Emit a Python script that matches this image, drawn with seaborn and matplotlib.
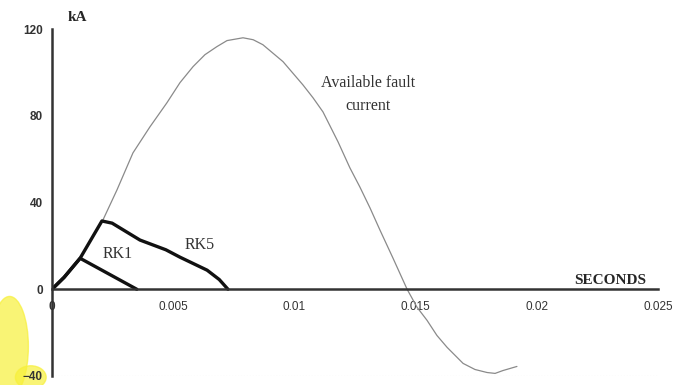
import numpy as np
import pandas as pd
import matplotlib
matplotlib.use("Agg")
import matplotlib.pyplot as plt
import seaborn as sns
from matplotlib.patches import Ellipse

# available fault current
fault_t = [0, 0.0005, 0.00116, 0.0021, 0.00268, 0.00334, 0.00404, 0.00474, 0.00528,
           0.00582, 0.00631, 0.0068, 0.00722, 0.00788, 0.0083, 0.0087, 0.00953,
           0.01035, 0.01077, 0.01118, 0.0118, 0.01229, 0.0127, 0.01312, 0.01353,
           0.01407, 0.01465, 0.01506, 0.01547, 0.01588, 0.0163, 0.01696, 0.01745,
           0.01795, 0.01828, 0.0186, 0.01918]
fault_ka = [0, 5.5, 14.3, 31.9, 45.8, 62.9, 74.9, 86, 95.3,
            102.7, 108.2, 111.9, 114.7, 116, 115.1, 112.8, 105,
            94.3, 88.3, 81.8, 68, 56, 47.2, 37.5, 27.3,
            14.3, 0, -8.3, -14.3, -21.3, -26.8, -34.2, -37,
            -38.4, -38.8, -37.5, -35.6]

# let-through current of the fuses
rk1_t = [0, 0.0005, 0.00116, 0.0035]
rk1_ka = [0, 5.5, 14.3, 0]
rk5_t = [0, 0.0005, 0.00116, 0.00206, 0.00248, 0.00363, 0.0047, 0.00528, 0.0064, 0.0069, 0.00726]
rk5_ka = [0, 5.5, 14.3, 31.5, 30.5, 22.7, 18.2, 14.8, 8.8, 4.5, 0]

x_ticks = [0, 0.005, 0.01, 0.015, 0.02, 0.025]
x_labels = ["0", "0.005", "0.01", "0.015", "0.02", "0.025"]
y_ticks = [-40, 0, 40, 80, 120]

sns.set_style("white")
plt.rcParams["font.family"] = ["Liberation Sans", "DejaVu Sans"]

fig = plt.figure(figsize=(6.84, 3.85), dpi=100)
ax = fig.add_axes([0.076, 0.0234, 0.886, 0.901])
ax.patch.set_alpha(0)

# yellow highlighter smudge from the scan
fig.patches.append(Ellipse((0.014, 0.10), 0.055, 0.26, transform=fig.transFigure,
                           color="#f7f03a", alpha=0.7, zorder=-1))
fig.patches.append(Ellipse((0.045, 0.02), 0.045, 0.06, transform=fig.transFigure,
                           color="#f7f03a", alpha=0.7, zorder=-1))

fault = pd.DataFrame({"t": fault_t, "kA": fault_ka})
rk1 = pd.DataFrame({"t": rk1_t, "kA": rk1_ka})
rk5 = pd.DataFrame({"t": rk5_t, "kA": rk5_ka})

sns.lineplot(data=fault, x="t", y="kA", ax=ax, color="#8a8a8a", lw=0.9, sort=False)
sns.lineplot(data=rk5, x="t", y="kA", ax=ax, color="#111111", lw=2.4, sort=False)
sns.lineplot(data=rk1, x="t", y="kA", ax=ax, color="#111111", lw=2.4, sort=False)

ax.axhline(-40, color="#cfcfcf", lw=0.8, ls=":")

ax.set_xlim(0, 0.025)
ax.set_ylim(-40, 120)
ax.spines["top"].set_visible(False)
ax.spines["right"].set_visible(False)
ax.spines["bottom"].set_position(("data", 0))
for s in ["left", "bottom"]:
    ax.spines[s].set_color("#333333")
    ax.spines[s].set_linewidth(1.8)

ax.set_xticks(x_ticks)
ax.set_xticklabels(x_labels)
ax.set_yticks(y_ticks)
ax.tick_params(axis="both", direction="inout", length=9, width=1.4, color="#333333",
               labelsize=8.5, labelcolor="#333333")
ax.tick_params(axis="x", pad=4)
ax.tick_params(axis="y", pad=2)
for lab in ax.get_yticklabels():
    lab.set_fontweight("bold")
ax.get_xticklabels()[0].set_fontweight("bold")
ax.set_xlabel("")
ax.set_ylabel("")

serif = ["Liberation Serif", "DejaVu Serif"]
ax.text(0.00103, 125.5, "kA", family=serif, fontsize=11, fontweight="bold",
        ha="center", va="center", clip_on=False)
ax.text(0.02302, 4.2, "SECONDS", family=serif, fontsize=11, fontweight="bold",
        ha="center", va="center")
ax.text(0.01304, 90, "Available fault\ncurrent", family=serif, fontsize=11.5,
        ha="center", va="center", color="#333333", linespacing=1.6)
ax.text(0.00272, 16.2, "RK1", family=serif, fontsize=11.5, ha="center", va="center",
        color="#333333")
ax.text(0.0061, 20.3, "RK5", family=serif, fontsize=11.5, ha="center", va="center",
        color="#333333")

fig.savefig("out.png", dpi=100)
